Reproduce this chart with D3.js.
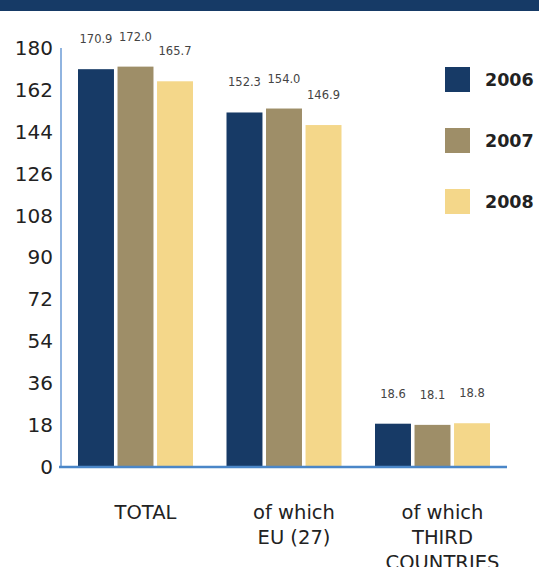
<!DOCTYPE html>
<html>
<head>
<meta charset="utf-8">
<script src="https://cdn.jsdelivr.net/npm/d3@7"></script>
<style>
  html, body { margin: 0; padding: 0; background: #fff; }
  svg { display: block; }
</style>
</head>
<body>
<svg id="chart" width="539" height="567"></svg>
<script>
// Categories, series and values
const categories = ["TOTAL", "of which EU (27)", "of which THIRD COUNTRIES"];
const categoryLines = [["TOTAL"], ["of which", "EU (27)"], ["of which", "THIRD", "COUNTRIES"]];
const years = ["2006", "2007", "2008"];
const values2006 = [170.9, 152.3, 18.6];
const values2007 = [172.0, 154.0, 18.1];
const values2008 = [165.7, 146.9, 18.8];
const yTicks = [0, 18, 36, 54, 72, 90, 108, 126, 144, 162, 180];
const colors = ["#173a66", "#9e8e68", "#f4d78a"];

const series = [values2006, values2007, values2008];
const rows = categories.map((c, i) => ({
  category: c,
  lines: categoryLines[i],
  bars: years.map((y, j) => ({ year: y, value: series[j][i] }))
}));

const svg = d3.select("#chart");
const font = "'DejaVu Sans', sans-serif";

// Header band
svg.append("rect").attr("x", 0).attr("y", 0).attr("width", 539).attr("height", 11).attr("fill", "#163a66");

const plotLeft = 61, plotRight = 507, plotTop = 48, plotBottom = 467;

const x0 = d3.scaleBand().domain(categories).range([plotLeft, plotRight]).paddingInner(0.2256).paddingOuter(0.1145);
const x1 = d3.scaleBand().domain(years).range([0, x0.bandwidth()]).paddingInner(0.09).paddingOuter(0);
const y = d3.scaleLinear().domain([0, 180]).range([plotBottom, plotTop]);
const color = d3.scaleOrdinal().domain(years).range(colors);

// Y axis labels (no ticks)
const yAxis = svg.append("g").attr("transform", `translate(${plotLeft},0)`)
  .call(d3.axisLeft(y).tickValues(yTicks).tickSize(0).tickPadding(8));
yAxis.select(".domain").remove();
yAxis.selectAll("text")
  .attr("font-family", font).attr("font-size", 20).attr("fill", "#222");

// Bars
const groups = svg.append("g").selectAll("g").data(rows).join("g")
  .attr("transform", d => `translate(${x0(d.category)},0)`);

groups.selectAll("rect").data(d => d.bars).join("rect")
  .attr("x", d => x1(d.year))
  .attr("y", d => y(d.value))
  .attr("width", x1.bandwidth())
  .attr("height", d => y(0) - y(d.value))
  .attr("fill", d => color(d.year));

groups.selectAll("text.val").data(d => d.bars).join("text")
  .attr("class", "val")
  .attr("x", d => x1(d.year) + x1.bandwidth() / 2)
  .attr("y", d => y(d.value) - 26)
  .attr("text-anchor", "middle")
  .attr("font-family", font).attr("font-size", 11.5).attr("fill", "#444")
  .text(d => d.value.toFixed(1));

// Axis lines
svg.append("line").attr("x1", plotLeft).attr("x2", plotLeft).attr("y1", plotTop).attr("y2", plotBottom)
  .attr("stroke", "#6b9bd6").attr("stroke-width", 1.5);
svg.append("line").attr("x1", plotLeft - 2).attr("x2", plotRight).attr("y1", plotBottom).attr("y2", plotBottom)
  .attr("stroke", "#4a86c8").attr("stroke-width", 2.5);

// Category labels
groups.each(function(d) {
  const t = d3.select(this).append("text")
    .attr("x", x0.bandwidth() / 2 + 10)
    .attr("y", 519)
    .attr("text-anchor", "middle")
    .attr("font-family", font).attr("font-size", 19.5).attr("fill", "#222");
  d.lines.forEach((line, i) => {
    t.append("tspan").attr("x", x0.bandwidth() / 2 + 10).attr("dy", i === 0 ? 0 : 25).text(line);
  });
});

// Legend
const legend = svg.append("g").selectAll("g").data(years).join("g")
  .attr("transform", (d, i) => `translate(445,${67 + i * 61})`);
legend.append("rect").attr("width", 25).attr("height", 25).attr("fill", d => color(d));
legend.append("text").attr("x", 40).attr("y", 12.5).attr("dy", "0.35em")
  .attr("font-family", font).attr("font-size", 17.5).attr("font-weight", "bold").attr("fill", "#222")
  .text(d => d);
</script>
</body>
</html>
